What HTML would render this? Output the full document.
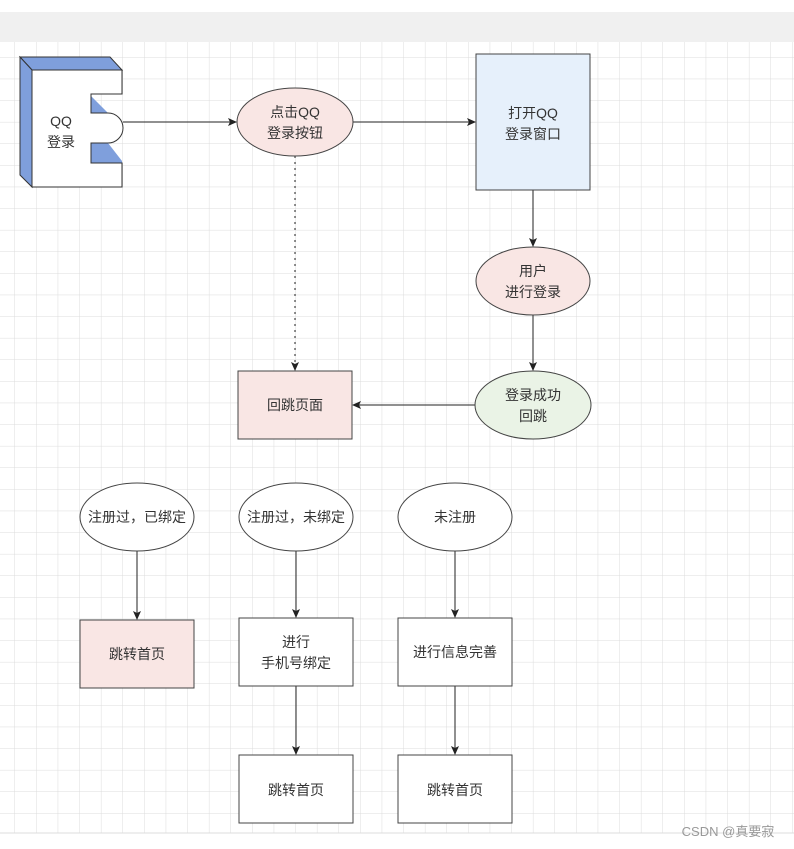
<!DOCTYPE html>
<html><head><meta charset="utf-8"><style>
html,body{margin:0;padding:0;background:#fff;}
svg{display:block}
text{font-family:"Liberation Sans","Noto Sans CJK SC",sans-serif;font-size:14px;fill:#333;text-anchor:middle}
</style></head><body>
<svg width="794" height="849" viewBox="0 0 794 849" xmlns="http://www.w3.org/2000/svg">
<defs>
<pattern id="g" x="14.5" y="35.5" width="21.6" height="21.6" patternUnits="userSpaceOnUse">
<path d="M0 0H21.6M0 0V21.6" stroke="#dcdcdc" stroke-width="1" fill="none"/>
</pattern>
<marker id="a" markerWidth="10" markerHeight="10" refX="8" refY="5" orient="auto" markerUnits="userSpaceOnUse">
<path d="M0 1L9 5L0 9L2 5Z" fill="#222"/>
</marker>
</defs>
<rect x="0" y="12" width="794" height="30" fill="#f0f0f0"/>
<rect x="0" y="42" width="794" height="791" fill="url(#g)"/>
<line x1="0" y1="833" x2="794" y2="833" stroke="#dcdcdc"/>

<!-- component -->
<polygon points="20,57 110,57 122,70 32,70" fill="#7f9fdc" stroke="#333"/>
<polygon points="20,57 32,70 32,187 20,175" fill="#7f9fdc" stroke="#333"/>
<path d="M32,70 H122 V94 H91 V113 H108 A15,15 0 0 1 108,143 H91 V163 H122 V187 H32 Z" fill="#fff" stroke="#333"/>
<polygon points="91,96 91,113 108,113" fill="#7f9fdc"/>
<polygon points="91,143 108,143 122,161 122,163 91,163" fill="#7f9fdc"/>
<path d="M91,94 V113 H108 M108,143 H91 V163 H122" fill="none" stroke="#333"/>
<text x="61" y="126">QQ</text><text x="61" y="147">登录</text>

<!-- edges -->
<line x1="123" y1="122" x2="236" y2="122" stroke="#222" marker-end="url(#a)"/>
<line x1="353" y1="122" x2="475" y2="122" stroke="#222" marker-end="url(#a)"/>
<line x1="533" y1="190" x2="533" y2="246" stroke="#222" marker-end="url(#a)"/>
<line x1="533" y1="315" x2="533" y2="370" stroke="#222" marker-end="url(#a)"/>
<line x1="475" y1="405" x2="353" y2="405" stroke="#222" marker-end="url(#a)"/>
<line x1="295" y1="156" x2="295" y2="370" stroke="#222" stroke-dasharray="2,4" marker-end="url(#a)"/>
<line x1="137" y1="551" x2="137" y2="619" stroke="#222" marker-end="url(#a)"/>
<line x1="296" y1="551" x2="296" y2="617" stroke="#222" marker-end="url(#a)"/>
<line x1="455" y1="551" x2="455" y2="617" stroke="#222" marker-end="url(#a)"/>
<line x1="296" y1="686" x2="296" y2="754" stroke="#222" marker-end="url(#a)"/>
<line x1="455" y1="686" x2="455" y2="754" stroke="#222" marker-end="url(#a)"/>

<!-- nodes -->
<ellipse cx="295" cy="122" rx="58" ry="34" fill="#f9e6e4" stroke="#444"/>
<text x="295" y="117">点击QQ</text><text x="295" y="138">登录按钮</text>
<rect x="476" y="54" width="114" height="136" fill="#e6f0fb" stroke="#444"/>
<text x="533" y="118">打开QQ</text><text x="533" y="139">登录窗口</text>
<ellipse cx="533" cy="281" rx="57" ry="34" fill="#f9e6e4" stroke="#444"/>
<text x="533" y="276">用户</text><text x="533" y="297">进行登录</text>
<ellipse cx="533" cy="405" rx="58" ry="34" fill="#eaf3e6" stroke="#444"/>
<text x="533" y="400">登录成功</text><text x="533" y="421">回跳</text>
<rect x="238" y="371" width="114" height="68" fill="#f9e6e4" stroke="#444"/>
<text x="295" y="410">回跳页面</text>

<ellipse cx="137" cy="517" rx="57" ry="34" fill="#fff" stroke="#444"/>
<text x="137" y="522">注册过，已绑定</text>
<ellipse cx="296" cy="517" rx="57" ry="34" fill="#fff" stroke="#444"/>
<text x="296" y="522">注册过，未绑定</text>
<ellipse cx="455" cy="517" rx="57" ry="34" fill="#fff" stroke="#444"/>
<text x="455" y="522">未注册</text>

<rect x="80" y="620" width="114" height="68" fill="#f9e6e4" stroke="#444"/>
<text x="137" y="659">跳转首页</text>
<rect x="239" y="618" width="114" height="68" fill="#fff" stroke="#444"/>
<text x="296" y="647">进行</text><text x="296" y="668">手机号绑定</text>
<rect x="398" y="618" width="114" height="68" fill="#fff" stroke="#444"/>
<text x="455" y="657">进行信息完善</text>
<rect x="239" y="755" width="114" height="68" fill="#fff" stroke="#444"/>
<text x="296" y="795">跳转首页</text>
<rect x="398" y="755" width="114" height="68" fill="#fff" stroke="#444"/>
<text x="455" y="795">跳转首页</text>

<text x="728" y="836" style="font-size:13px;fill:#999">CSDN @真要寂</text>
</svg>
</body></html>
